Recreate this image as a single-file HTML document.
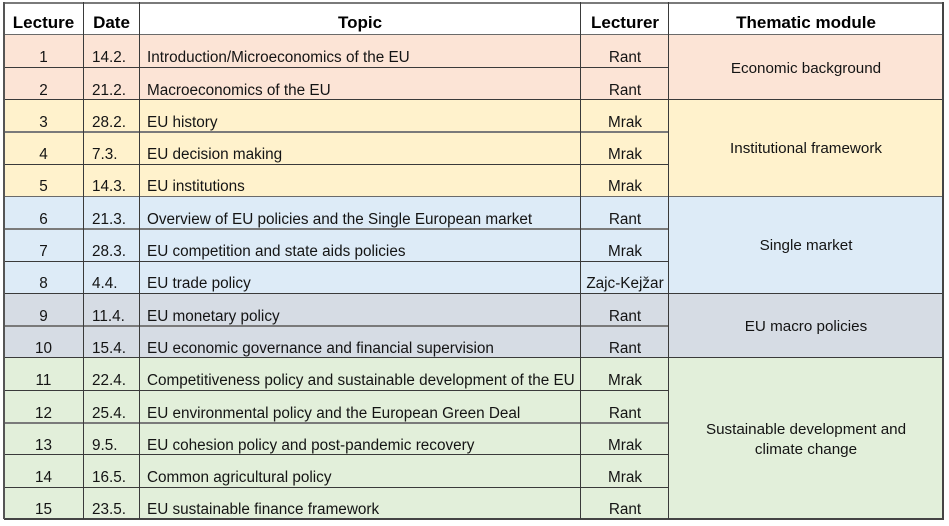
<!DOCTYPE html>
<html>
<head>
<meta charset="utf-8">
<style>
  html, body { margin: 0; padding: 0; background: #ffffff; }
  #wrap { position: relative; width: 949px; height: 526px; overflow: hidden; background: #fff;
    font-family: "Liberation Sans", "DejaVu Sans", sans-serif; color: #141414; }
  .bg { position: absolute; left: 4px; width: 939px; }
  .h { position: absolute; height: 1px; background: #3a3a3a; }
  .hg { position: absolute; height: 2px; background: #7a7a7a; }
  .v { position: absolute; width: 1px; background: #3a3a3a; top: 2px; height: 517px; }
  .t { position: absolute; height: 18px; line-height: 18px; font-size: 15.3px; white-space: nowrap; margin-top: 2px; }
  .c1 { left: 4px; width: 79px; text-align: center; }
  .c2 { left: 92px; }
  .c3 { left: 147px; }
  .c4 { left: 581px; width: 88px; text-align: center; }
  .hd { position: absolute; top: 13px; height: 20px; line-height: 20px; font-size: 17px; font-weight: bold; white-space: nowrap; text-align: center; color: #000; }
  .mod { position: absolute; left: 669px; width: 274px; display: flex; align-items: center; justify-content: center; text-align: center; font-size: 15.2px; line-height: 20px; padding-top: 2px; box-sizing: border-box; }
</style>
</head>
<body>
<div id="wrap">
  <!-- backgrounds -->
  <div class="bg" style="top:35px;height:65px;background:#FCE4D6;"></div>
  <div class="bg" style="top:100px;height:96px;background:#FFF2CC;"></div>
  <div class="bg" style="top:196px;height:97px;background:#DDEBF7;"></div>
  <div class="bg" style="top:293px;height:65px;background:#D6DCE4;"></div>
  <div class="bg" style="top:358px;height:161px;background:#E2EFDA;"></div>

  <!-- outer & header lines -->
  <div class="hg" style="left:4px;width:940px;top:2px;"></div>
  <div class="h" style="left:4px;width:940px;top:34px;background:#6a6a6a;"></div>
  <div class="hg" style="left:4px;width:940px;top:518px;background:#444;"></div>

  <!-- row lines (cols 1-4) -->
  <div class="h" style="left:4px;width:665px;top:67px;"></div>
  <div class="h" style="left:4px;width:939px;top:99px;"></div>
  <div class="hg" style="left:4px;width:665px;top:131px;"></div>
  <div class="h" style="left:4px;width:665px;top:164px;"></div>
  <div class="h" style="left:4px;width:939px;top:196px;background:#6a6a6a;"></div>
  <div class="hg" style="left:4px;width:665px;top:228px;"></div>
  <div class="h" style="left:4px;width:665px;top:261px;"></div>
  <div class="h" style="left:4px;width:939px;top:293px;"></div>
  <div class="hg" style="left:4px;width:665px;top:325px;"></div>
  <div class="h" style="left:4px;width:939px;top:357px;"></div>
  <div class="h" style="left:4px;width:665px;top:390px;"></div>
  <div class="hg" style="left:4px;width:665px;top:422px;"></div>
  <div class="h" style="left:4px;width:665px;top:454px;"></div>
  <div class="h" style="left:4px;width:665px;top:487px;"></div>

  <!-- vertical lines -->
  <div class="v" style="left:3px;width:2px;background:#555;"></div>
  <div class="v" style="left:83px;"></div>
  <div class="v" style="left:139px;"></div>
  <div class="v" style="left:580px;"></div>
  <div class="v" style="left:668px;"></div>
  <div class="v" style="left:942px;width:2px;background:#444;"></div>

  <!-- header -->
  <div class="hd" style="left:4px;width:79px;">Lecture</div>
  <div class="hd" style="left:84px;width:55px;">Date</div>
  <div class="hd" style="left:140px;width:440px;">Topic</div>
  <div class="hd" style="left:581px;width:88px;">Lecturer</div>
  <div class="hd" style="left:669px;width:274px;">Thematic module</div>

  <!-- rows -->
  <div class="t c1" style="top:47px;">1</div><div class="t c2" style="top:47px;">14.2.</div><div class="t c3" style="top:47px;">Introduction/Microeconomics of the EU</div><div class="t c4" style="top:47px;">Rant</div>
  <div class="t c1" style="top:80px;">2</div><div class="t c2" style="top:80px;">21.2.</div><div class="t c3" style="top:80px;">Macroeconomics of the EU</div><div class="t c4" style="top:80px;">Rant</div>
  <div class="t c1" style="top:112px;">3</div><div class="t c2" style="top:112px;">28.2.</div><div class="t c3" style="top:112px;">EU history</div><div class="t c4" style="top:112px;">Mrak</div>
  <div class="t c1" style="top:144px;">4</div><div class="t c2" style="top:144px;">7.3.</div><div class="t c3" style="top:144px;">EU decision making</div><div class="t c4" style="top:144px;">Mrak</div>
  <div class="t c1" style="top:176px;">5</div><div class="t c2" style="top:176px;">14.3.</div><div class="t c3" style="top:176px;">EU institutions</div><div class="t c4" style="top:176px;">Mrak</div>
  <div class="t c1" style="top:209px;">6</div><div class="t c2" style="top:209px;">21.3.</div><div class="t c3" style="top:209px;">Overview of EU policies and the Single European market</div><div class="t c4" style="top:209px;">Rant</div>
  <div class="t c1" style="top:241px;">7</div><div class="t c2" style="top:241px;">28.3.</div><div class="t c3" style="top:241px;">EU competition and state aids policies</div><div class="t c4" style="top:241px;">Mrak</div>
  <div class="t c1" style="top:273px;">8</div><div class="t c2" style="top:273px;">4.4.</div><div class="t c3" style="top:273px;">EU trade policy</div><div class="t c4" style="top:273px;">Zajc-Kejžar</div>
  <div class="t c1" style="top:306px;">9</div><div class="t c2" style="top:306px;">11.4.</div><div class="t c3" style="top:306px;">EU monetary policy</div><div class="t c4" style="top:306px;">Rant</div>
  <div class="t c1" style="top:338px;">10</div><div class="t c2" style="top:338px;">15.4.</div><div class="t c3" style="top:338px;">EU economic governance and financial supervision</div><div class="t c4" style="top:338px;">Rant</div>
  <div class="t c1" style="top:370px;">11</div><div class="t c2" style="top:370px;">22.4.</div><div class="t c3" style="top:370px;">Competitiveness policy and sustainable development of the EU</div><div class="t c4" style="top:370px;">Mrak</div>
  <div class="t c1" style="top:403px;">12</div><div class="t c2" style="top:403px;">25.4.</div><div class="t c3" style="top:403px;">EU environmental policy and the European Green Deal</div><div class="t c4" style="top:403px;">Rant</div>
  <div class="t c1" style="top:435px;">13</div><div class="t c2" style="top:435px;">9.5.</div><div class="t c3" style="top:435px;">EU cohesion policy and post-pandemic recovery</div><div class="t c4" style="top:435px;">Mrak</div>
  <div class="t c1" style="top:467px;">14</div><div class="t c2" style="top:467px;">16.5.</div><div class="t c3" style="top:467px;">Common agricultural policy</div><div class="t c4" style="top:467px;">Mrak</div>
  <div class="t c1" style="top:499px;">15</div><div class="t c2" style="top:499px;">23.5.</div><div class="t c3" style="top:499px;">EU sustainable finance framework</div><div class="t c4" style="top:499px;">Rant</div>

  <!-- thematic modules -->
  <div class="mod" style="top:35px;height:65px;">Economic background</div>
  <div class="mod" style="top:100px;height:96px;">Institutional framework</div>
  <div class="mod" style="top:197px;height:96px;">Single market</div>
  <div class="mod" style="top:294px;height:64px;">EU macro policies</div>
  <div class="mod" style="top:359px;height:160px;">Sustainable development and<br>climate change</div>
</div>
</body>
</html>
